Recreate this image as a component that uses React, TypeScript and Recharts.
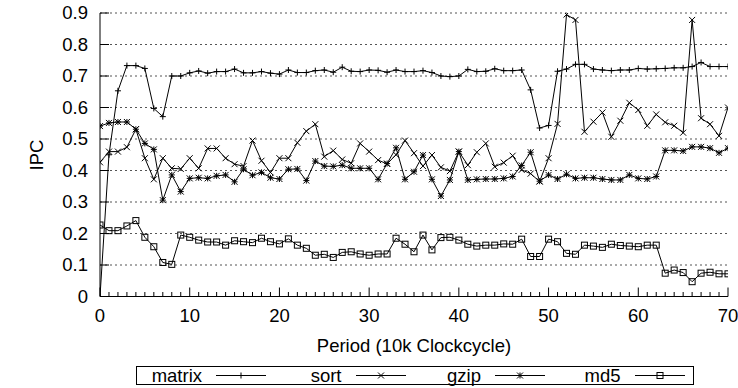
import React from 'react';
import { LineChart, Line, XAxis, YAxis, CartesianGrid, Legend } from 'recharts';

const periods = [
  0, 1, 2, 3, 4, 5, 6, 7, 8, 9, 10, 11, 12, 13, 14, 15, 16, 17, 18, 19, 20,
  21, 22, 23, 24, 25, 26, 27, 28, 29, 30, 31, 32, 33, 34, 35, 36, 37, 38, 39, 40,
  41, 42, 43, 44, 45, 46, 47, 48, 49, 50, 51, 52, 53, 54, 55, 56, 57, 58, 59, 60,
  61, 62, 63, 64, 65, 66, 67, 68, 69, 70,
];

const matrix = [
  0, 0.45, 0.653, 0.733, 0.733, 0.724, 0.597, 0.571, 0.7, 0.7, 0.71,
  0.716, 0.709, 0.714, 0.714, 0.722, 0.71, 0.71, 0.714, 0.709, 0.706,
  0.719, 0.711, 0.711, 0.717, 0.719, 0.712, 0.728, 0.715, 0.714, 0.719,
  0.718, 0.712, 0.719, 0.714, 0.714, 0.717, 0.711, 0.7, 0.698, 0.7,
  0.721, 0.714, 0.715, 0.723, 0.717, 0.717, 0.719, 0.656, 0.535, 0.543,
  0.715, 0.722, 0.737, 0.737, 0.722, 0.719, 0.717, 0.719, 0.719, 0.724,
  0.722, 0.723, 0.724, 0.726, 0.726, 0.73, 0.743, 0.73, 0.73, 0.73,
];

const sort = [
  0.426, 0.46, 0.46, 0.474, 0.531, 0.439, 0.372, 0.439, 0.407, 0.405, 0.439,
  0.407, 0.47, 0.47, 0.439, 0.42, 0.414, 0.495, 0.431, 0.394, 0.439,
  0.439, 0.488, 0.525, 0.547, 0.444, 0.463, 0.435, 0.423, 0.486, 0.46,
  0.433, 0.421, 0.45, 0.495, 0.455, 0.414, 0.449, 0.41, 0.398, 0.46,
  0.417, 0.458, 0.486, 0.412, 0.425, 0.447, 0.402, 0.39, 0.365, 0.439,
  0.548, 0.895, 0.878, 0.523, 0.555, 0.584, 0.507, 0.558, 0.615, 0.592,
  0.542, 0.578, 0.553, 0.542, 0.52, 0.878, 0.566, 0.547, 0.51, 0.6,
];

const gzip = [
  0.541, 0.551, 0.554, 0.554, 0.531, 0.486, 0.467, 0.306, 0.386, 0.333, 0.375,
  0.377, 0.375, 0.383, 0.386, 0.364, 0.404, 0.385, 0.394, 0.377, 0.373,
  0.404, 0.405, 0.368, 0.43, 0.414, 0.413, 0.417, 0.407, 0.407, 0.407,
  0.372, 0.422, 0.472, 0.372, 0.396, 0.449, 0.372, 0.319, 0.37, 0.46,
  0.37, 0.372, 0.373, 0.373, 0.375, 0.381, 0.416, 0.458, 0.366, 0.386,
  0.373, 0.388, 0.375, 0.377, 0.377, 0.373, 0.37, 0.37, 0.386, 0.375,
  0.373, 0.381, 0.464, 0.464, 0.462, 0.475, 0.475, 0.471, 0.456, 0.471,
];

const md5 = [
  0.227, 0.209, 0.209, 0.224, 0.241, 0.188, 0.158, 0.108, 0.102, 0.195, 0.188,
  0.179, 0.173, 0.173, 0.163, 0.177, 0.174, 0.171, 0.185, 0.174, 0.167,
  0.183, 0.163, 0.153, 0.131, 0.134, 0.124, 0.14, 0.142, 0.135, 0.131,
  0.135, 0.135, 0.185, 0.166, 0.142, 0.195, 0.148, 0.187, 0.188, 0.179,
  0.166, 0.16, 0.163, 0.163, 0.167, 0.166, 0.182, 0.127, 0.127, 0.182,
  0.174, 0.137, 0.134, 0.163, 0.16, 0.156, 0.166, 0.162, 0.16, 0.158,
  0.163, 0.163, 0.074, 0.084, 0.076, 0.047, 0.074, 0.077, 0.072, 0.072,
];

const yTicks = [0, 0.1, 0.2, 0.3, 0.4, 0.5, 0.6, 0.7, 0.8, 0.9];
const seriesNames = ['matrix', 'sort', 'gzip', 'md5'];
const seriesShapes = ['plus', 'cross', 'star', 'square'];

const data = periods.map((p, i) => ({
  period: p,
  matrix: matrix[i],
  sort: sort[i],
  gzip: gzip[i],
  md5: md5[i],
}));

const FONT = '"Liberation Sans", Arial, sans-serif';
const FS = 18.5;

function Marker({ shape, cx, cy }: { shape: string; cx: number; cy: number }) {
  const s = 3;
  if (shape === 'plus')
    return <path d={`M${cx - s},${cy}H${cx + s}M${cx},${cy - s}V${cy + s}`} stroke="#000" fill="none" />;
  if (shape === 'cross')
    return <path d={`M${cx - s},${cy - s}L${cx + s},${cy + s}M${cx - s},${cy + s}L${cx + s},${cy - s}`} stroke="#000" fill="none" />;
  if (shape === 'star')
    return (
      <path
        d={`M${cx - s},${cy}H${cx + s}M${cx},${cy - s}V${cy + s}M${cx - s},${cy - s}L${cx + s},${cy + s}M${cx - s},${cy + s}L${cx + s},${cy - s}`}
        stroke="#000"
        fill="none"
      />
    );
  return <rect x={cx - 3} y={cy - 3} width={6} height={6} stroke="#000" fill="none" />;
}

const makeDot = (shape: string) => (props: any) => {
  const { cx, cy, index } = props;
  if (cx == null || cy == null) return <g key={`${shape}-${index}`} />;
  return (
    <g key={`${shape}-${index}`}>
      <Marker shape={shape} cx={cx} cy={cy} />
    </g>
  );
};

const BottomTick = (props: any) => {
  const { x, y, payload } = props;
  const major = payload.value % 10 === 0;
  return (
    <g>
      <line x1={x} x2={x} y1={y} y2={y - (major ? 9 : 4.5)} stroke="#000" />
      {major && (
        <text x={x} y={y + 25} textAnchor="middle" fontFamily={FONT} fontSize={FS} fill="#000">
          {payload.value}
        </text>
      )}
    </g>
  );
};

const TopTick = (props: any) => {
  const { x, y, payload } = props;
  const major = payload.value % 10 === 0;
  return <line x1={x} x2={x} y1={y} y2={y + (major ? 9 : 4.5)} stroke="#000" />;
};

const LeftTick = (props: any) => {
  const { x, y, payload } = props;
  const v = payload.value;
  return (
    <g>
      <line x1={x} x2={x + 9} y1={y} y2={y} stroke="#000" />
      <text x={x - 12} y={y} dy="0.35em" textAnchor="end" fontFamily={FONT} fontSize={FS} fill="#000">
        {v === 0 ? '0' : v.toFixed(1)}
      </text>
    </g>
  );
};

const RightTick = (props: any) => {
  const { x, y } = props;
  return <line x1={x} x2={x - 9} y1={y} y2={y} stroke="#000" />;
};

const renderLegend = () => (
  <div
    style={{
      position: 'relative',
      width: 558,
      height: 19,
      border: '1px solid #000',
      boxSizing: 'border-box',
      fontFamily: FONT,
      fontSize: FS,
      color: '#000',
    }}
  >
    {seriesNames.map((name, i) => (
      <React.Fragment key={name}>
        <span
          style={{
            position: 'absolute',
            right: 558 - (67 + 139.5 * i),
            top: -1,
            lineHeight: '19px',
            whiteSpace: 'nowrap',
          }}
        >
          {name}
        </span>
        <svg
          width={52}
          height={19}
          style={{ position: 'absolute', left: 79 + 139.5 * i, top: -1 }}
        >
          <line x1={0} x2={50} y1={9.5} y2={9.5} stroke="#000" />
          <Marker shape={seriesShapes[i]} cx={25} cy={9.5} />
        </svg>
      </React.Fragment>
    ))}
  </div>
);

export default function App() {
  return (
    <div style={{ position: 'absolute', left: 0, top: 0, background: '#fff' }}>
      <LineChart
        width={738}
        height={388}
        data={data}
        margin={{ top: 13, right: 10, left: 0, bottom: 31.5 }}
      >
        <CartesianGrid horizontal vertical={false} stroke="#555" strokeDasharray="2 3" />
        <XAxis
          dataKey="period"
          type="number"
          domain={[0, 70]}
          ticks={periods}
          interval={0}
          allowDataOverflow
          height={60}
          tickSize={0}
          tickMargin={0}
          tickLine={false}
          axisLine={{ stroke: '#000' }}
          tick={<BottomTick />}
          label={() => (
            <text x={414} y={352} textAnchor="middle" fontFamily={FONT} fontSize={FS} fill="#000">
              Period (10k Clockcycle)
            </text>
          )}
        />
        <XAxis
          xAxisId="top"
          orientation="top"
          dataKey="period"
          type="number"
          domain={[0, 70]}
          ticks={periods}
          interval={0}
          allowDataOverflow
          height={0}
          tickSize={0}
          tickMargin={0}
          tickLine={false}
          axisLine={{ stroke: '#000' }}
          tick={<TopTick />}
        />
        <YAxis
          type="number"
          domain={[0, 0.9]}
          ticks={yTicks}
          interval={0}
          allowDataOverflow
          width={100}
          tickSize={0}
          tickMargin={0}
          tickLine={false}
          axisLine={{ stroke: '#000' }}
          tick={<LeftTick />}
          label={() => (
            <text
              x={38}
              y={155}
              textAnchor="middle"
              dominantBaseline="middle"
              transform="rotate(-90 38 155)"
              fontFamily={FONT}
              fontSize={FS}
              fill="#000"
            >
              IPC
            </text>
          )}
        />
        <YAxis
          yAxisId="r"
          orientation="right"
          type="number"
          domain={[0, 0.9]}
          ticks={yTicks}
          interval={0}
          allowDataOverflow
          width={0}
          tickSize={0}
          tickMargin={0}
          tickLine={false}
          axisLine={{ stroke: '#000' }}
          tick={<RightTick />}
        />
        <Legend
          layout="horizontal"
          verticalAlign="middle"
          align="center"
          wrapperStyle={{ left: 136, top: 366, width: 558, height: 19 }}
          content={renderLegend}
        />
        {seriesNames.map((name, i) => (
          <Line
            key={name}
            dataKey={name}
            type="linear"
            stroke="#000"
            strokeWidth={1}
            dot={makeDot(seriesShapes[i])}
            activeDot={false}
            isAnimationActive={false}
          />
        ))}
      </LineChart>
    </div>
  );
}
